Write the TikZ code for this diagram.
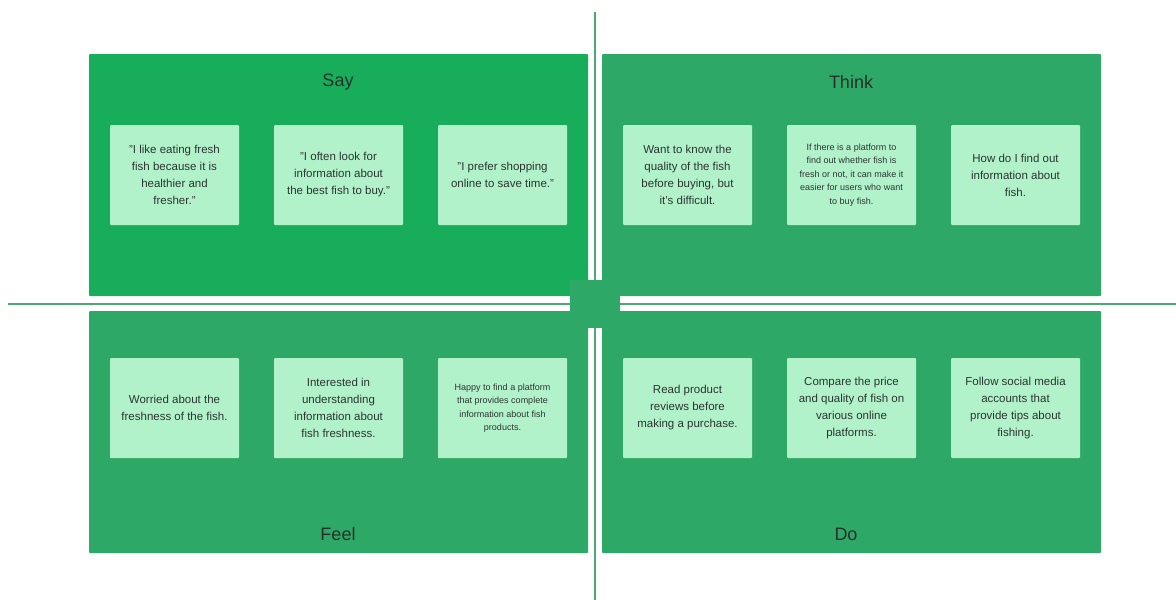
\documentclass[tikz,border=0pt]{standalone}
\usepackage{fontspec}
\setmainfont{Liberation Sans}
\usetikzlibrary{positioning}

\definecolor{saygreen}{HTML}{17AD5A}
\definecolor{panelgreen}{HTML}{2EA866}
\definecolor{cardgreen}{HTML}{B2F2CB}
\definecolor{axisgreen}{HTML}{4DA874}
\definecolor{inkgrey}{HTML}{2B3530}

\begin{document}
\begin{tikzpicture}
	[x=1pt,y=-1pt,
	panel/.style={fill=panelgreen,minimum width=499pt,minimum height=242pt,inner sep=0pt,rounded corners=1pt},
	card/.style={fill=cardgreen,minimum width=129pt,minimum height=100pt,inner sep=0pt,rounded corners=1pt,
		align=center,text=inkgrey,font=\fontsize{11.5}{17}\selectfont},
	smallcard/.style={card,font=\fontsize{9}{13.5}\selectfont},
	heading/.style={text=inkgrey!90!black,font=\fontsize{18}{20}\selectfont},
	axis/.style={draw=axisgreen,line width=2pt}]
	\fill[white] (0,0) rectangle (1176,600);
	\useasboundingbox (0,0) rectangle (1176,600);

	% the four quadrants
	\node[panel,fill=saygreen] (say) at (338.5,175) {};
	\node[panel] (think) at (851.5,175) {};
	\node[panel] (feel) at (338.5,432) {};
	\node[panel] (do) at (851.5,432) {};

	\node[heading] (saytitle) at (338,82) {Say};
	\node[heading] (thinktitle) at (851,82) {Think};
	\node[heading] (feeltitle) at (338,534) {Feel};
	\node[heading] (dotitle) at (846,534) {Do};

	% axes through the middle
	\coordinate (axtop) at (595,12);
	\coordinate (axbottom) at (595,600);
	\coordinate (axleft) at (8,304);
	\coordinate (axright) at (1176,304);
	\draw[axis] (axtop) -- (axbottom);
	\draw[axis] (axleft) -- (axright);
	\node[fill=panelgreen,minimum width=50pt,minimum height=48pt,inner sep=0pt] (hub) at (595,304) {};

	% notes
	\node[card] (say1) at (174.5,175) {"I like eating fresh\\fish because it is\\healthier and\\fresher."};
	\node[card] (say2) at (338.5,175) {"I often look for\\information about\\the best fish to buy."};
	\node[card] (say3) at (502.5,175) {"I prefer shopping\\online to save time."};

	\node[card] (think1) at (687.5,175) {Want to know the\\quality of the fish\\before buying, but\\it's difficult.};
	\node[smallcard] (think2) at (851.5,175) {If there is a platform to\\find out whether fish is\\fresh or not, it can make it\\easier for users who want\\to buy fish.};
	\node[card] (think3) at (1015.5,175) {How do I find out\\information about\\fish.};

	\node[card] (feel1) at (174.5,408) {Worried about the\\freshness of the fish.};
	\node[card] (feel2) at (338.5,408) {Interested in\\understanding\\information about\\fish freshness.};
	\node[smallcard] (feel3) at (502.5,408) {Happy to find a platform\\that provides complete\\information about fish\\products.};

	\node[card] (do1) at (687.5,408) {Read product\\reviews before\\making a purchase.};
	\node[card] (do2) at (851.5,408) {Compare the price\\and quality of fish on\\various online\\platforms.};
	\node[card] (do3) at (1015.5,408) {Follow social media\\accounts that\\provide tips about\\fishing.};
\end{tikzpicture}
\end{document}
